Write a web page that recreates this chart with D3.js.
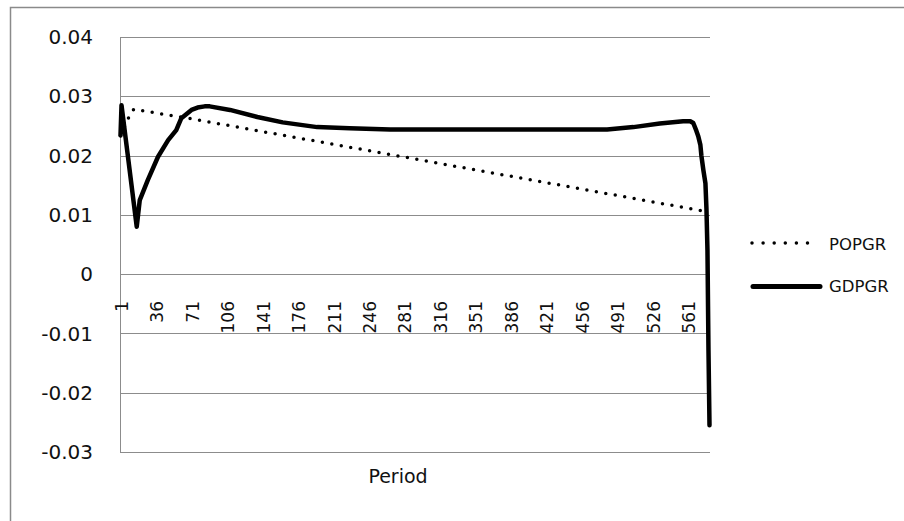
<!DOCTYPE html>
<html>
<head>
<meta charset="utf-8">
<script src="https://cdn.jsdelivr.net/npm/d3@7"></script>
<style>
  body { margin: 0; background: #fff; }
  text { font-family: "DejaVu Sans", sans-serif; fill: #111; }
</style>
</head>
<body>
<div id="chart"></div>
<script>
// periods 1..582, values
const nPeriods = 582;
const xTickLabels = [1, 36, 71, 106, 141, 176, 211, 246, 281, 316, 351, 386, 421, 456, 491, 526, 561];
const yTickValues = [-0.03, -0.02, -0.01, 0, 0.01, 0.02, 0.03, 0.04];

const popPeriods = [1, 9, 14, 71, 136, 195, 435, 571, 582];
const popValues = [0.0234, 0.0264, 0.0278, 0.0262, 0.0242, 0.0224, 0.0150, 0.0108, 0.0105];

const gdpPeriods = [1, 2, 17, 20, 28, 38, 48, 56, 61, 71, 77, 84, 89, 109, 136, 161, 195, 227, 267, 435, 481, 507, 533, 556, 563, 566, 569, 571, 573, 574, 576, 578, 579, 580, 581, 582];
const gdpValues = [0.0234, 0.0285, 0.0080, 0.0125, 0.0159, 0.0198, 0.0226, 0.0243, 0.0263, 0.0277, 0.0281, 0.0283, 0.0283, 0.0277, 0.0265, 0.0256, 0.0248, 0.0246, 0.0244, 0.0244, 0.0244, 0.0248, 0.0254, 0.0258, 0.0258, 0.0255, 0.0242, 0.0232, 0.0218, 0.0200, 0.0175, 0.0153, 0.0110, 0.0040, -0.0128, -0.0255];

const width = 904;
const height = 521;
const plotLeft = 120, plotRight = 710, plotTop = 37, plotBottom = 452;

const svg = d3.select("#chart")
  .append("svg")
  .attr("width", width)
  .attr("height", height);

svg.append("rect").attr("width", width).attr("height", height).attr("fill", "#fff");

// chart border (only top and left show in the picture)
svg.append("path")
  .attr("d", "M10.5," + height + "V7.5H" + width)
  .attr("fill", "none")
  .attr("stroke", "#8a8a8a")
  .attr("stroke-width", 1.5);

const x = d3.scaleLinear().domain([0.5, nPeriods + 0.5]).range([plotLeft, plotRight]);
const y = d3.scaleLinear().domain([-0.03, 0.04]).range([plotBottom, plotTop]);

// gridlines
svg.append("g")
  .selectAll("line")
  .data(yTickValues)
  .enter()
  .append("line")
  .attr("x1", plotLeft)
  .attr("x2", plotRight)
  .attr("y1", d => Math.round(y(d)) + 0.5)
  .attr("y2", d => Math.round(y(d)) + 0.5)
  .attr("stroke", "#8c8c8c")
  .attr("stroke-width", 1);

// value axis line
svg.append("line")
  .attr("x1", plotLeft + 0.5).attr("x2", plotLeft + 0.5)
  .attr("y1", plotTop).attr("y2", plotBottom + 1)
  .attr("stroke", "#8c8c8c");

// y labels (plain hyphen for negatives, like the original)
const fmt = d3.formatLocale({ decimal: ".", thousands: ",", grouping: [3], currency: ["", ""], minus: "-" }).format(".2f");
svg.append("g")
  .selectAll("text")
  .data(yTickValues)
  .enter()
  .append("text")
  .attr("x", 93)
  .attr("y", d => y(d))
  .attr("dy", "0.36em")
  .attr("text-anchor", "end")
  .style("font-size", "20px")
  .text(d => d === 0 ? "0" : fmt(d));

// x labels, rotated
svg.append("g")
  .selectAll("text")
  .data(xTickLabels)
  .enter()
  .append("text")
  .attr("transform", d => "translate(" + (x(d) + 1) + ",301) rotate(-90)")
  .attr("dy", "0.36em")
  .attr("text-anchor", "end")
  .style("font-size", "17px")
  .text(d => d);

svg.append("text")
  .attr("x", 398)
  .attr("y", 483)
  .attr("text-anchor", "middle")
  .style("font-size", "19px")
  .text("Period");

const line = d3.line()
  .x(d => x(d[0]))
  .y(d => y(d[1]));

svg.append("path")
  .datum(popPeriods.map((p, i) => [p, popValues[i]]))
  .attr("d", line)
  .attr("fill", "none")
  .attr("stroke", "#000")
  .attr("stroke-width", 3.5)
  .attr("stroke-linecap", "round")
  .attr("stroke-dasharray", "0 9.6");

svg.append("path")
  .datum(gdpPeriods.map((p, i) => [p, gdpValues[i]]))
  .attr("d", line)
  .attr("fill", "none")
  .attr("stroke", "#000")
  .attr("stroke-width", 4.5)
  .attr("stroke-linejoin", "round")
  .attr("stroke-linecap", "round");

// legend
const legend = svg.append("g");
legend.append("line")
  .attr("x1", 752).attr("x2", 818.6).attr("y1", 243).attr("y2", 243)
  .attr("stroke", "#000")
  .attr("stroke-width", 3.5)
  .attr("stroke-linecap", "round")
  .attr("stroke-dasharray", "0 11.1");
legend.append("text")
  .attr("x", 829).attr("y", 250)
  .style("font-size", "16.5px")
  .text("POPGR");
legend.append("line")
  .attr("x1", 753).attr("x2", 820).attr("y1", 286.5).attr("y2", 286.5)
  .attr("stroke", "#000")
  .attr("stroke-width", 5)
  .attr("stroke-linecap", "round");
legend.append("text")
  .attr("x", 829).attr("y", 292)
  .style("font-size", "16.5px")
  .text("GDPGR");
</script>
</body>
</html>
